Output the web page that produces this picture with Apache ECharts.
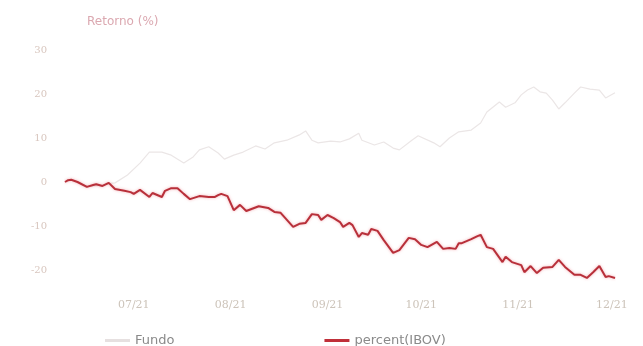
<!DOCTYPE html>
<html>
<head>
<meta charset="utf-8">
<script src="https://cdn.jsdelivr.net/npm/echarts@6/dist/echarts.min.js"></script>
<style>
  html, body { margin: 0; padding: 0; background: #fff; }
  #chart { width: 643px; height: 346px; }
</style>
</head>
<body>
<div id="chart"></div>
<script>
// Cumulative return (%) of the fund versus the IBOV index, Jun–Dec 2021
const fundoDates = [
  '2021-06-09','2021-06-11','2021-06-16','2021-06-21','2021-06-23','2021-06-25','2021-06-29',
  '2021-07-03','2021-07-06','2021-07-10','2021-07-13','2021-07-17','2021-07-20','2021-07-22',
  '2021-07-25','2021-07-28','2021-07-30','2021-08-02','2021-08-05','2021-08-09','2021-08-12',
  '2021-08-15','2021-08-19','2021-08-23','2021-08-25','2021-08-27','2021-08-29','2021-09-02',
  '2021-09-05','2021-09-08','2021-09-11','2021-09-12','2021-09-16','2021-09-19','2021-09-22',
  '2021-09-24','2021-09-28','2021-09-30','2021-10-05','2021-10-07','2021-10-10','2021-10-13',
  '2021-10-17','2021-10-20','2021-10-22','2021-10-26','2021-10-28','2021-10-31','2021-11-02',
  '2021-11-04','2021-11-06','2021-11-08','2021-11-10','2021-11-12','2021-11-14','2021-11-16',
  '2021-11-19','2021-11-21','2021-11-24','2021-11-27','2021-11-29','2021-12-02'
];
const fundoValues = [
  0, 0.5, -1.0, -0.8, -0.3, -0.2, 1.6,
  4.3, 6.8, 6.8, 6.1, 4.3, 5.7, 7.3,
  8.0, 6.6, 5.2, 6.1, 6.8, 8.2, 7.5,
  8.9, 9.5, 10.7, 11.6, 9.5, 8.9, 9.3,
  9.1, 9.8, 11.1, 9.5, 8.4, 9.1, 7.7,
  7.3, 9.5, 10.5, 8.9, 8.0, 10.0, 11.4,
  11.8, 13.4, 15.9, 18.2, 17.0, 18.0, 19.8,
  20.9, 21.6, 20.5, 20.2, 18.6, 16.6, 18.0,
  20.2, 21.6, 21.1, 20.9, 19.1, 20.3
];

const ibovDates = [
  '2021-06-09','2021-06-10','2021-06-11','2021-06-13','2021-06-16','2021-06-18','2021-06-19',
  '2021-06-21','2021-06-23','2021-06-25','2021-06-28','2021-06-30','2021-07-01','2021-07-03',
  '2021-07-06','2021-07-07','2021-07-10','2021-07-11','2021-07-13','2021-07-15','2021-07-17',
  '2021-07-19','2021-07-22','2021-07-25','2021-07-27','2021-07-28','2021-07-29','2021-07-31',
  '2021-08-02','2021-08-04','2021-08-06','2021-08-10','2021-08-13','2021-08-15','2021-08-17',
  '2021-08-21','2021-08-23','2021-08-25','2021-08-27','2021-08-29','2021-08-30','2021-09-01',
  '2021-09-03','2021-09-05','2021-09-06','2021-09-08','2021-09-09','2021-09-11','2021-09-12',
  '2021-09-14','2021-09-15','2021-09-17','2021-09-19','2021-09-22','2021-09-24','2021-09-27',
  '2021-09-29','2021-10-01','2021-10-03','2021-10-06','2021-10-08','2021-10-10','2021-10-12',
  '2021-10-13','2021-10-14','2021-10-17','2021-10-19','2021-10-20','2021-10-22','2021-10-24',
  '2021-10-27','2021-10-28','2021-10-30','2021-11-02','2021-11-03','2021-11-05','2021-11-07',
  '2021-11-09','2021-11-12','2021-11-14','2021-11-16','2021-11-19','2021-11-21','2021-11-23',
  '2021-11-25','2021-11-27','2021-11-29','2021-11-30','2021-12-02'
];
const ibovValues = [
  0, 0.4, 0.5, 0, -1.1, -0.7, -0.5,
  -0.9, -0.2, -1.6, -2.0, -2.3, -2.7, -1.8,
  -3.4, -2.5, -3.4, -2.0, -1.4, -1.4, -2.7,
  -3.9, -3.2, -3.4, -3.4, -3.0, -2.7, -3.2,
  -6.4, -5.2, -6.6, -5.5, -5.9, -6.8, -7.0,
  -10.2, -9.5, -9.3, -7.3, -7.5, -8.6, -7.5,
  -8.2, -9.1, -10.2, -9.3, -9.8, -12.5, -11.6,
  -12.0, -10.7, -11.1, -13.2, -16.1, -15.5, -12.7,
  -13.0, -14.3, -14.8, -13.6, -15.2, -15.0, -15.2,
  -13.9, -13.9, -13.0, -12.3, -12.0, -14.8, -15.2,
  -18.2, -17.0, -18.2, -18.9, -20.5, -19.1, -20.7,
  -19.5, -19.3, -17.7, -19.3, -21.1, -21.1, -21.8,
  -20.5, -19.1, -21.6, -21.4, -21.8
];

const yTickValues = [-20, -10, 0, 10, 20, 30];
const seriesNames = ['Fundo', 'percent(IBOV)'];

const pair = (dates, values) => dates.map((d, i) => [d, values[i]]);
const DAY = 86400000;

const chart = echarts.init(document.getElementById('chart'), null, { renderer: 'canvas' });
chart.setOption({
  animation: false,
  backgroundColor: '#ffffff',
  grid: { left: 65, right: 28, top: 50, bottom: 54, containLabel: false },
  legend: {
    data: [
      { name: seriesNames[0], icon: 'rect', itemStyle: { color: '#e6e0e0' } },
      { name: seriesNames[1], icon: 'rect', itemStyle: { color: '#c0303a' } }
    ],
    left: 100,
    bottom: -6,
    itemGap: 150,
    itemWidth: 25,
    itemHeight: 3,
    textStyle: { color: '#8a8a8a', fontSize: 13, fontFamily: 'DejaVu Sans' }
  },
  xAxis: {
    type: 'time',
    min: '2021-06-09',
    max: '2021-12-02',
    splitNumber: 6,
    minInterval: 28 * DAY,
    maxInterval: 31 * DAY,
    axisLine: { show: false },
    axisTick: { show: false },
    splitLine: { show: false },
    axisLabel: {
      margin: 8,
      color: '#cdc4ba',
      fontSize: 11,
      fontFamily: 'DejaVu Serif',
      formatter: (val) => {
        const d = new Date(val);
        const mm = String(d.getMonth() + 1).padStart(2, '0');
        const yy = String(d.getFullYear()).slice(2);
        return mm + '/' + yy;
      }
    }
  },
  yAxis: {
    type: 'value',
    min: -25,
    max: 30,
    name: 'Retorno (%)',
    nameLocation: 'end',
    nameGap: 22,
    nameTextStyle: { color: '#dba8b0', fontSize: 12, fontFamily: 'DejaVu Sans', align: 'left', padding: [0, 0, 0, 22] },
    axisLine: { show: false },
    axisTick: { show: false },
    splitLine: { show: false },
    axisLabel: {
      customValues: yTickValues,
      margin: 18,
      color: '#d8c6be',
      fontSize: 10,
      fontFamily: 'DejaVu Serif'
    }
  },
  series: [
    {
      name: seriesNames[0],
      type: 'line',
      data: pair(fundoDates, fundoValues),
      showSymbol: false,
      symbol: 'none',
      lineStyle: { color: '#ebe6e6', width: 1.2 },
      itemStyle: { color: '#e6e0e0' },
      z: 1
    },
    {
      name: seriesNames[1],
      type: 'line',
      data: pair(ibovDates, ibovValues),
      showSymbol: false,
      symbol: 'none',
      lineStyle: { color: '#b8303a', width: 2, shadowBlur: 3, shadowColor: 'rgba(235,120,130,0.6)' },
      itemStyle: { color: '#c8323c' },
      z: 2
    }
  ]
});
</script>
</body>
</html>
